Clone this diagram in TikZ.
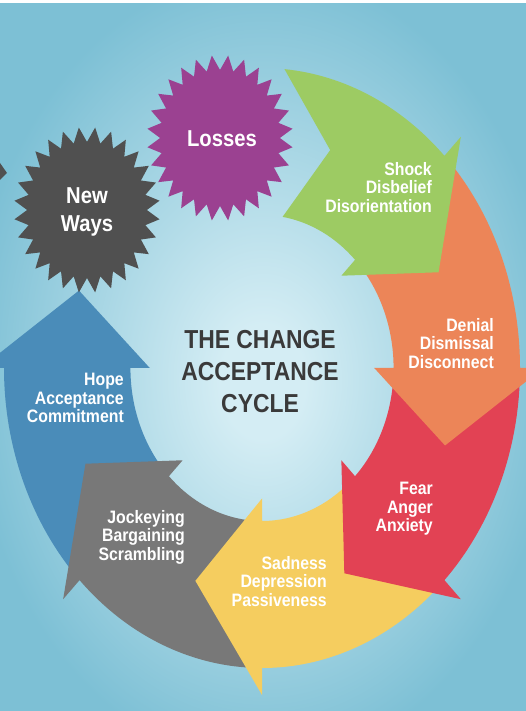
\documentclass[tikz,border=0pt]{standalone}
\usepackage{fontspec}
\setmainfont{Liberation Sans}[FakeStretch=0.88]
\definecolor{cgreen}{HTML}{9DCB63}
\definecolor{corange}{HTML}{EC8558}
\definecolor{cred}{HTML}{E24254}
\definecolor{cyellow}{HTML}{F5CD5F}
\definecolor{cgray}{HTML}{787878}
\definecolor{cblue}{HTML}{4A8CB9}
\definecolor{cpurple}{HTML}{9B4191}
\definecolor{cdark}{HTML}{505050}
\definecolor{bgin}{HTML}{D4EDF4}
\definecolor{bgout}{HTML}{7DC0D5}
\definecolor{ctitle}{HTML}{3A3A3A}
\pgfdeclareradialshading{bgshade}{\pgfpoint{0bp}{-2bp}}{color(0bp)=(bgin); color(4bp)=(bgin); color(28bp)=(bgout); color(50bp)=(bgout)}
\newcommand\ringarrow[3]{%
  \fill[#1] (#2:1) arc[start angle=#2, end angle=#3, radius=1]
    -- (#3:1.09) -- ({#3-20}:0.755) -- (#3:0.435) -- (#3:0.51)
    arc[start angle=#3, end angle=#2, radius=0.51] -- ({#2-14}:0.755) -- cycle;}
\newcommand\starburst[2]{%
  \begin{scope}[shift={#2}, xscale=73, yscale=83]
  \fill[#1] (96.43:1)
    \foreach \k in {0,...,27} { -- ({96.43+\k*12.857+6.4286}:0.82) -- ({96.43+(\k+1)*12.857}:1) } -- cycle;
  \end{scope}}
\tikzset{
  lbl/.style={text=white, font=\bfseries\fontsize{18}{18.5}\selectfont, align=right, inner sep=0pt, anchor=north east},
  startxt/.style={text=white, font=\bfseries\fontsize{23}{28}\selectfont, align=center, inner sep=0pt, anchor=north},
  titletxt/.style={text=ctitle, font=\bfseries\fontsize{26}{32}\selectfont, align=center, inner sep=0pt, anchor=north}
}
\begin{document}
\begin{tikzpicture}[x=1pt, y=1pt]
\useasboundingbox (0,0) rectangle (526,711);
\clip (0,0) rectangle (526,711);
\shade[shading=bgshade] (0,0) rectangle (526,711);
\fill[white] (0,708) rectangle (526,711);
% ring of arrows
\begin{scope}[shift={(262,343)}, xscale=258, yscale=300]
  \ringarrow{cblue}{-135}{-180}
  \ringarrow{cgray}{-90}{-135}
  \ringarrow{cyellow}{-45}{-90}
  \ringarrow{cred}{0}{-45}
  \ringarrow{corange}{45}{0}
  \fill[cgreen] (85:1) arc[start angle=85, end angle=45, radius=1]
    -- (45:1.09) -- (25:0.755) -- (45:0.435) -- (45:0.51)
    arc[start angle=45, end angle=81, radius=0.51] -- (70:0.773) -- cycle;
\end{scope}
% stars
\starburst{cdark}{(87,501)}
\starburst{cpurple}{(220,573)}
\fill[cdark] (0,548) -- (7,538) -- (0,531) -- cycle;
% texts
\node[startxt] (newways) at (87,524) {New\\Ways};
\node[startxt] (losses) at (222,581) {Losses};
\node[titletxt] (title) at (260,381) {THE CHANGE\\ACCEPTANCE\\CYCLE};
\node[lbl] (shock) at (432,549) {Shock\\Disbelief\\Disorientation};
\node[lbl] (denial) at (494,393) {Denial\\Dismissal\\Disconnect};
\node[lbl] (fear) at (433,229) {Fear\\Anger\\Anxiety};
\node[lbl] (sadness) at (327,155) {Sadness\\Depression\\Passiveness};
\node[lbl] (jockey) at (185,201) {Jockeying\\Bargaining\\Scrambling};
\node[lbl] (hope) at (124,338) {Hope\\Acceptance\\Commitment};
\end{tikzpicture}
\end{document}
